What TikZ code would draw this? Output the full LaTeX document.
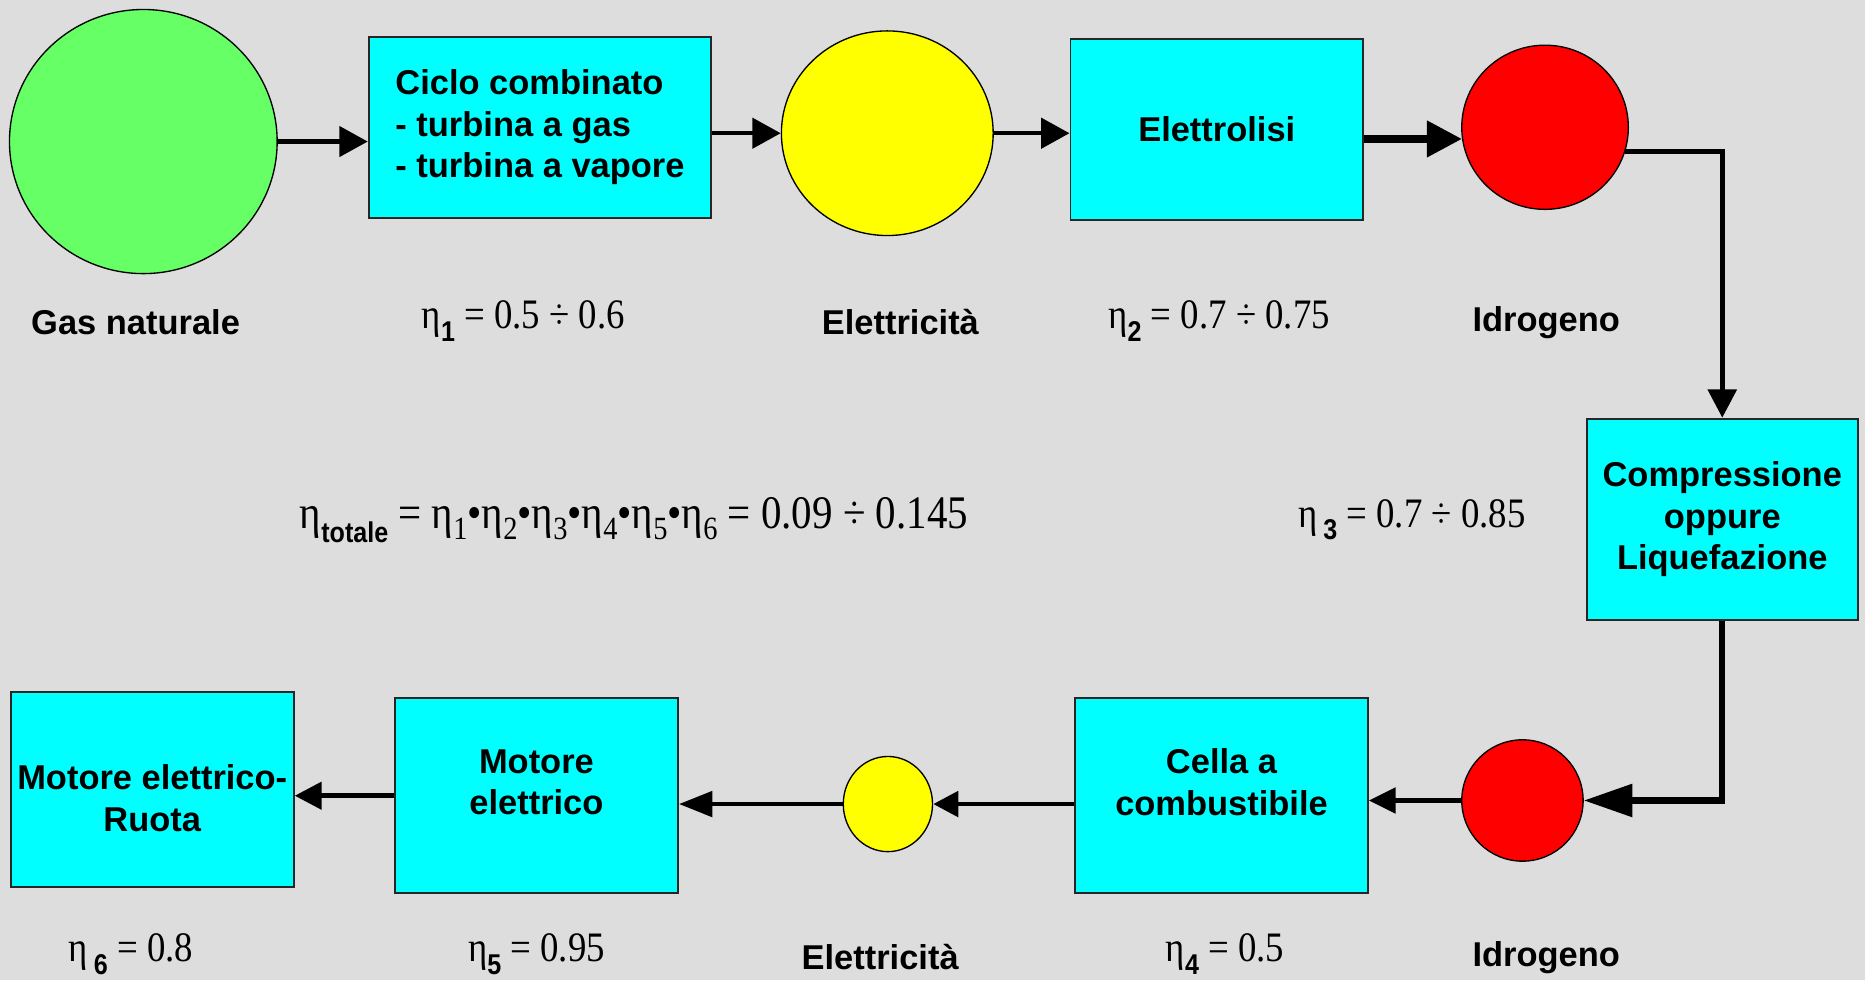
\documentclass[tikz,border=0pt]{standalone}
\usepackage{fontspec}
\usepackage{graphicx}
\setmainfont{Liberation Serif}
\setsansfont{Liberation Sans}
\usetikzlibrary{shapes.geometric, arrows.meta}

\definecolor{bggray}{RGB}{221,221,221}
\definecolor{boxcyan}{RGB}{0,255,255}
\definecolor{gasgreen}{RGB}{102,255,102}
\definecolor{eleyellow}{RGB}{255,255,0}
\definecolor{hydred}{RGB}{255,0,0}

\newcommand\boxfont{\fontsize{20.6}{25}\selectfont\sffamily\bfseries}
\newcommand\etafont{\fontsize{22}{26}\selectfont\rmfamily}
\newcommand\totfont{\fontsize{24.5}{28}\selectfont\rmfamily}
\newcommand\etasub[1]{\raisebox{-0.3em}{\fontsize{15}{15}\selectfont\sffamily\bfseries #1}}
\newcommand\etaprod[1]{\raisebox{-0.25em}{\fontsize{17}{17}\selectfont\rmfamily #1}}
\newcommand\tall[1]{\scalebox{1}[1.14]{#1}}

\begin{document}
\begin{tikzpicture}[
    x=0.025cm, y=-0.025cm,
    box/.style={draw=black!85, line width=1.1pt, fill=boxcyan, inner sep=0pt, font=\boxfont, align=center},
    blob/.style={ellipse, draw=black, line width=0.8pt, inner sep=0pt},
    lbl/.style={font=\boxfont, inner sep=0pt},
    eff/.style={font=\etafont, inner sep=0pt},
    link/.style={line width=2.6pt, -{Triangle[length=17pt, width=18pt]}},
    fatlink/.style={line width=4.4pt, -{Triangle[length=21pt, width=21pt]}}
  ]
  \fill[bggray] (0,0) rectangle (1568,824);

  % upper row
  \node[blob, fill=gasgreen, minimum width=5.625cm, minimum height=5.55cm] (gas) at (120.5,119) {};
  \node[box, minimum width=7.2cm, minimum height=3.8cm, align=left] (ciclo) at (454,107)
    {Ciclo combinato\\- turbina a gas\\- turbina a vapore};
  \node[blob, fill=eleyellow, minimum width=4.45cm, minimum height=4.3cm] (elet1) at (746,112) {};
  \node[box, minimum width=6.15cm, minimum height=3.8cm] (elettr) at (1023,109) {\raisebox{-2pt}{Elettrolisi}};
  \node[blob, fill=hydred, minimum width=3.5cm, minimum height=3.45cm] (idro1) at (1299,107) {};

  % right side
  \node[box, minimum width=5.7cm, minimum height=4.225cm] (compr) at (1448,436.5)
    {Compressione\\oppure\\Liquefazione};

  % lower row
  \node[blob, fill=hydred, minimum width=2.55cm, minimum height=2.55cm] (idro2) at (1280,673) {};
  \node[box, minimum width=6.15cm, minimum height=4.1cm,
    label={[lbl, align=center, yshift=8pt]center:Cella a\\combustibile}] (cella) at (1027,669) {};
  \node[blob, fill=eleyellow, minimum width=1.875cm, minimum height=2cm] (elet2) at (746.5,676) {};
  \node[box, minimum width=5.95cm, minimum height=4.1cm,
    label={[lbl, align=center, yshift=8pt]center:Motore\\elettrico}] (motore) at (451,669) {};
  \node[box, minimum width=5.95cm, minimum height=4.1cm,
    label={[lbl, align=center, yshift=-5pt]center:Motore elettrico-\\Ruota}] (ruota) at (128,664) {};

  % connectors
  \draw[link] (gas.east) -- (gas.east -| ciclo.west);
  \draw[link] (elet1.west -| ciclo.east) -- (elet1.west);
  \draw[link] (elet1.east) -- (elet1.east -| elettr.west);
  \draw[fatlink] (idro1.188 -| elettr.east) -- (idro1.188);
  \draw[line width=3pt, -{Triangle[length=17pt, width=17pt]}] (idro1.-17) -| (compr.north);
  \draw[line width=3.8pt, -{Triangle[length=29pt, width=19pt]}] (compr.south) |- (idro2.east);
  \draw[line width=2.9pt, -{Triangle[length=16pt, width=15pt]}] (idro2.west) -- (idro2.west -| cella.east);
  \draw[line width=2.9pt, -{Triangle[length=15pt, width=15pt]}] (cella.west |- elet2.east) -- (elet2.east);
  \draw[line width=2.9pt, -{Triangle[length=20pt, width=15pt]}] (elet2.west) -- (elet2.west -| motore.east);
  \draw[line width=2.9pt, -{Triangle[length=16pt, width=16pt]}] (motore.west) -- (motore.west -| ruota.east);

  % labels
  \node[lbl] (lgas) at (114,271) {Gas naturale};
  \node[eff] (leta1) at (440,270) {\tall{η\etasub{1} = 0.5 ÷ 0.6}};
  \node[lbl] (lelet1) at (757,271) {Elettricità};
  \node[eff] (leta2) at (1025,270) {\tall{η\etasub{2} = 0.7 ÷ 0.75}};
  \node[lbl] (lidro1) at (1300,271) {Idrogeno};
  \node[inner sep=0pt, font=\totfont] (ltot) at (533,437)
    {\tall{η\etasub{totale} = η\etaprod{1}•η\etaprod{2}•η\etaprod{3}•η\etaprod{4}•η\etaprod{5}•η\etaprod{6} = 0.09 ÷ 0.145}};
  \node[eff] (leta3) at (1187,437) {\tall{η\,\etasub{3} = 0.7 ÷ 0.85}};
  \node[eff] (leta6) at (110,802) {\tall{η\,\etasub{6} = 0.8}};
  \node[eff] (leta5) at (451,802) {\tall{η\etasub{5} = 0.95}};
  \node[lbl] (lelet2) at (740,805) {Elettricità};
  \node[eff] (leta4) at (1030,802) {\tall{η\etasub{4} = 0.5}};
  \node[lbl] (lidro2) at (1300,805) {Idrogeno};
\end{tikzpicture}
\end{document}
